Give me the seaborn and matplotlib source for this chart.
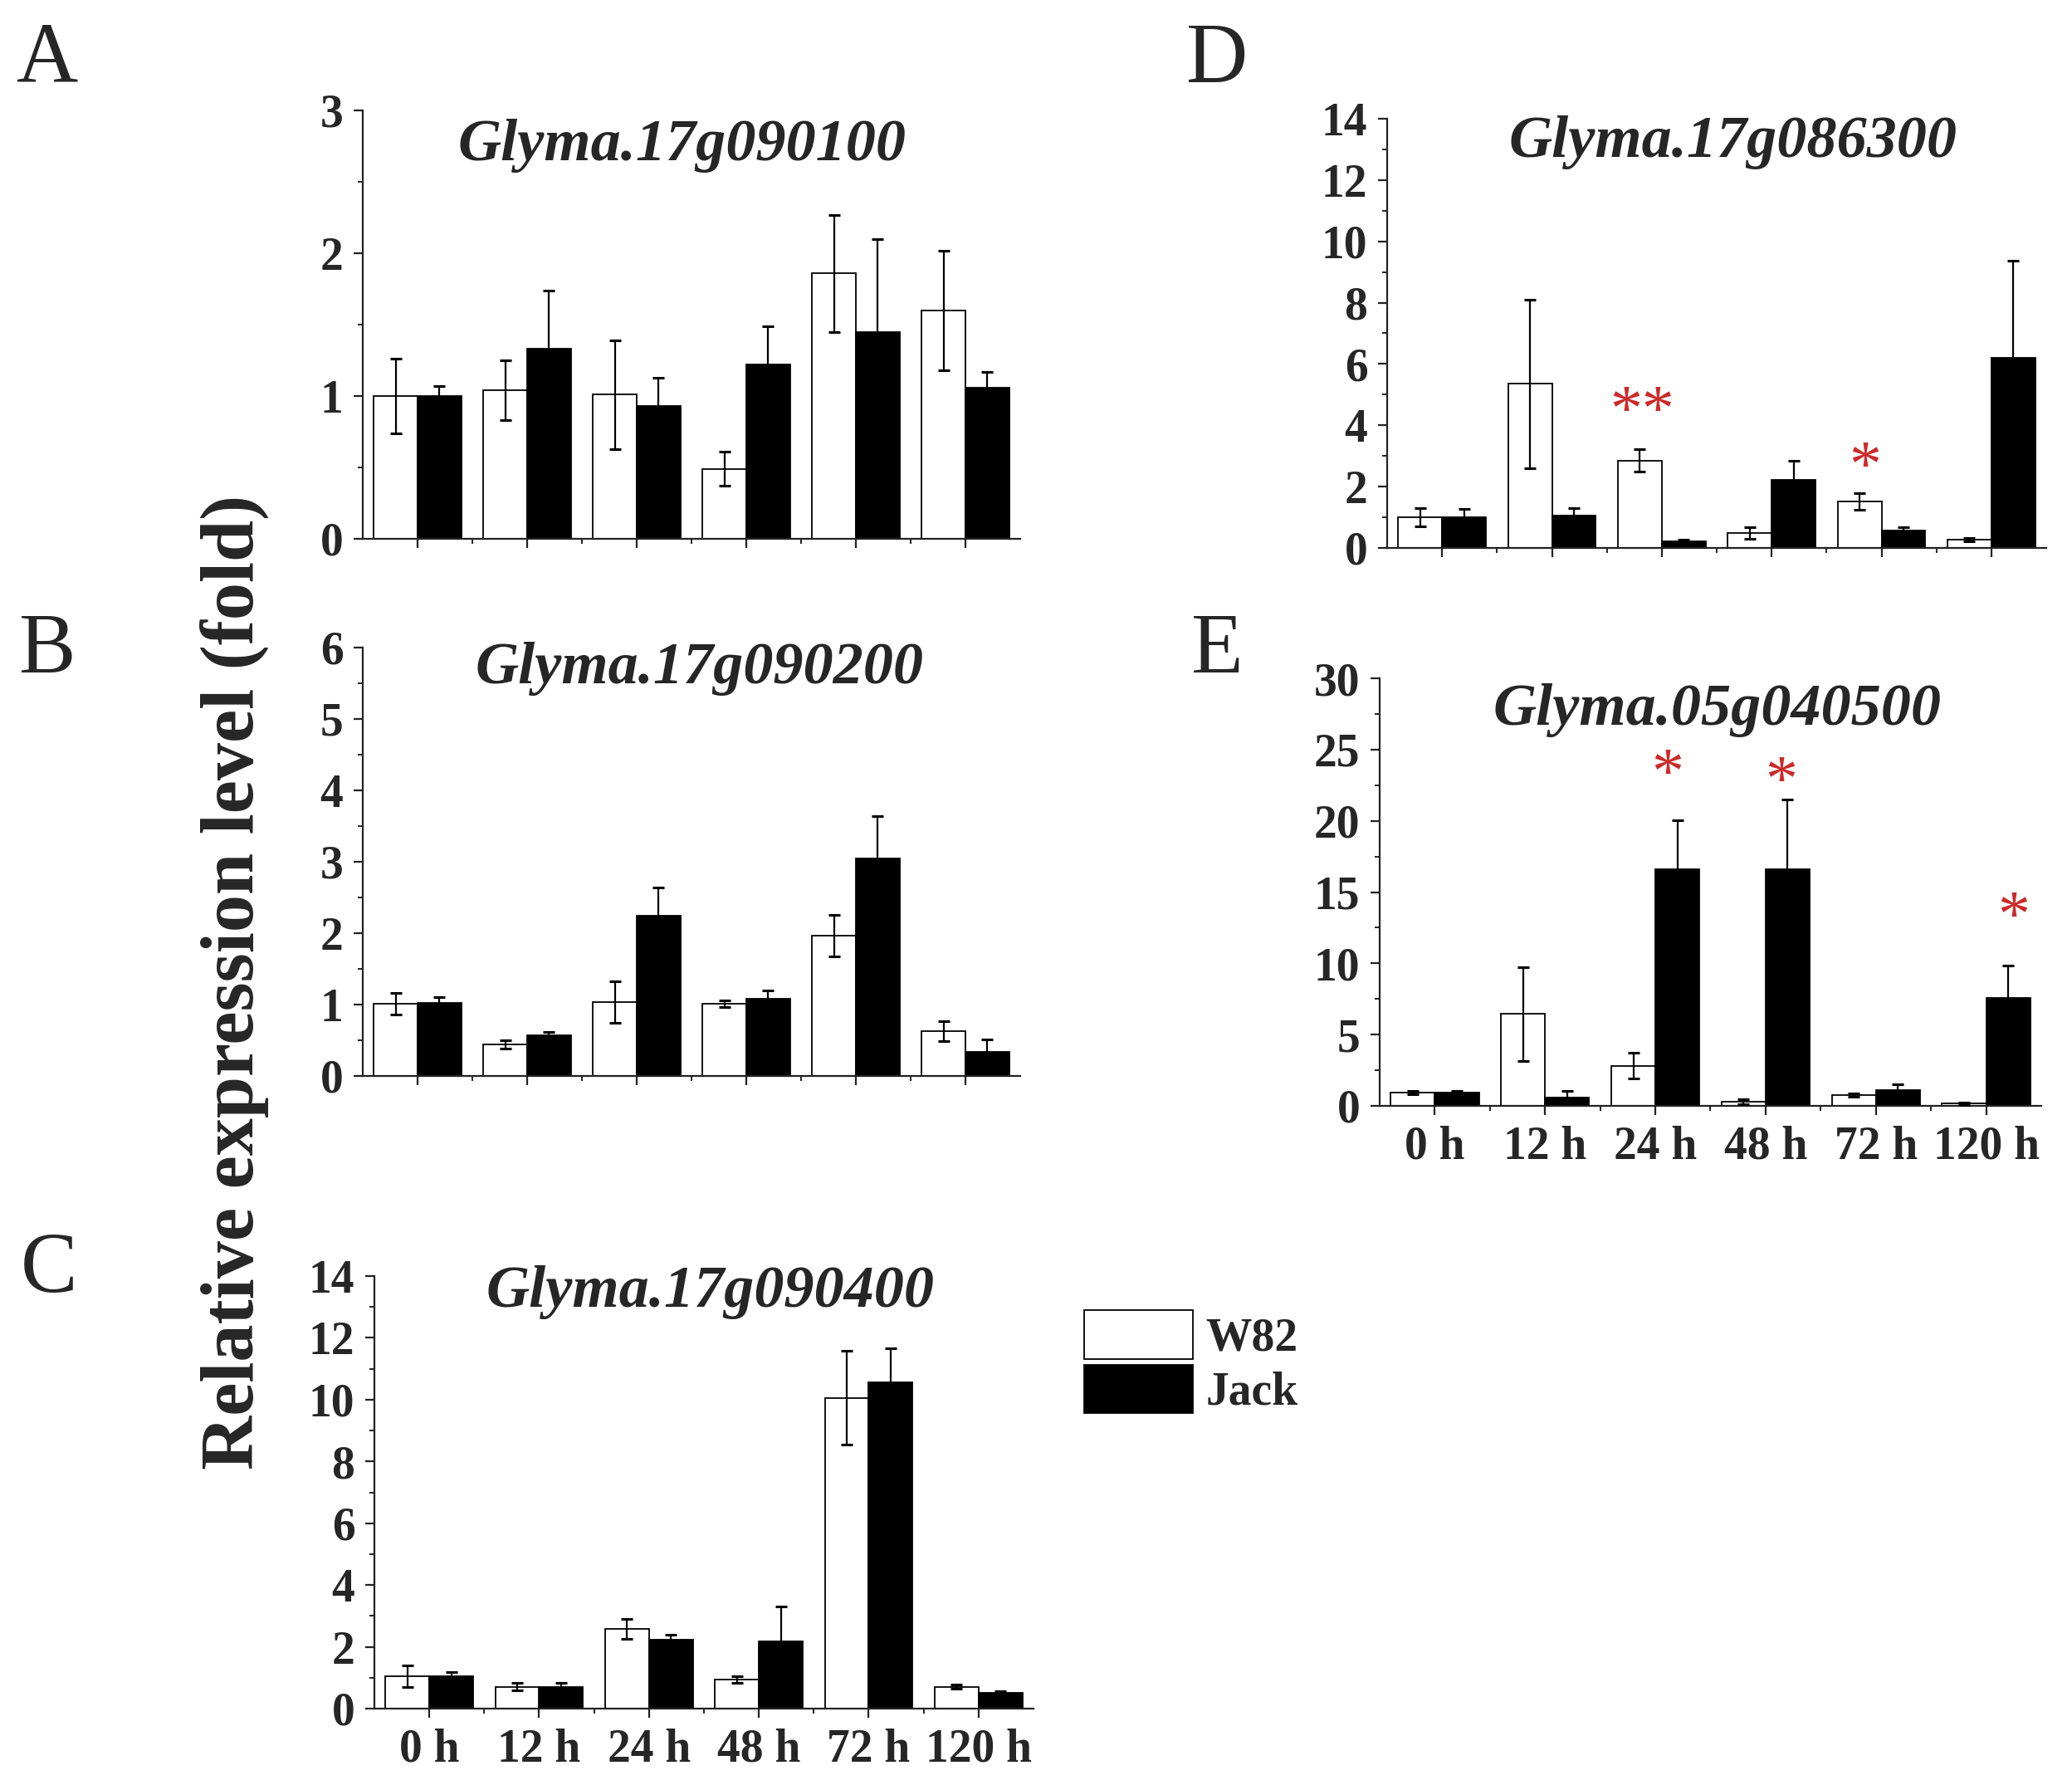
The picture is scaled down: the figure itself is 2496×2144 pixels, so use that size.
import numpy as np
import pandas as pd
import matplotlib
matplotlib.use("Agg")
import matplotlib.pyplot as plt
import seaborn as sns
from matplotlib.patches import Patch
from matplotlib.ticker import MultipleLocator, FixedLocator

# ---------------- data ----------------
times = ['0 h', '12 h', '24 h', '48 h', '72 h', '120 h']
cultivars = ['W82', 'Jack']

gene_a = 'Glyma.17g090100'
a_w82 = [1.00, 1.04, 1.01, 0.49, 1.86, 1.60]
a_w82_err = [0.26, 0.21, 0.38, 0.12, 0.41, 0.42]
a_jack = [1.00, 1.33, 0.93, 1.22, 1.45, 1.06]
a_jack_err = [0.07, 0.41, 0.20, 0.27, 0.65, 0.11]

gene_b = 'Glyma.17g090200'
b_w82 = [1.01, 0.44, 1.04, 1.01, 1.97, 0.63]
b_w82_err = [0.15, 0.06, 0.29, 0.05, 0.29, 0.14]
b_jack = [1.02, 0.57, 2.25, 1.08, 3.05, 0.34]
b_jack_err = [0.09, 0.05, 0.39, 0.12, 0.59, 0.17]

gene_c = 'Glyma.17g090400'
c_w82 = [1.05, 0.71, 2.58, 0.94, 10.06, 0.71]
c_w82_err = [0.35, 0.12, 0.33, 0.10, 1.52, 0.06]
c_jack = [1.05, 0.71, 2.24, 2.18, 10.57, 0.51]
c_jack_err = [0.14, 0.12, 0.15, 1.13, 1.09, 0.05]

gene_d = 'Glyma.17g086300'
d_w82 = [1.00, 5.36, 2.85, 0.49, 1.52, 0.28]
d_w82_err = [0.29, 2.75, 0.37, 0.18, 0.28, 0.05]
d_jack = [1.00, 1.06, 0.23, 2.22, 0.56, 6.19]
d_jack_err = [0.26, 0.24, 0.04, 0.62, 0.13, 3.18]

gene_e = 'Glyma.05g040500'
e_w82 = [0.92, 6.45, 2.82, 0.29, 0.76, 0.15]
e_w82_err = [0.12, 3.28, 0.92, 0.15, 0.10, 0.07]
e_jack = [0.92, 0.61, 16.63, 16.63, 1.08, 7.60]
e_jack_err = [0.12, 0.44, 3.41, 4.88, 0.44, 2.26]

# significance marks: label, x (category axis), y (value axis)
d_sig_labels = ['**', '*']
d_sig_x = [1.82, 3.85]
d_sig_y = [4.85, 3.03]
e_sig_labels = ['*', '*', '*']
e_sig_x = [2.11, 3.14, 5.25]
e_sig_y = [24.1, 23.6, 14.1]

# ---------------- style ----------------
sns.set_style('ticks')
plt.rcParams['font.family'] = ['Liberation Serif', 'DejaVu Serif']
plt.rcParams['font.weight'] = 'bold'

W, H = 2496, 2144
fig = plt.figure(figsize=(W / 100, H / 100), dpi=100)


def fig_axes(x0, y0, x1, y1):
    return fig.add_axes([x0 / W, 1 - y1 / H, (x1 - x0) / W, (y1 - y0) / H])


def panel(ax, w, we, j, je, ymax, major, minor, show_x):
    df = pd.DataFrame({'time': times * 2,
                       'cultivar': ['W82'] * len(times) + ['Jack'] * len(times),
                       'value': list(w) + list(j)})
    sns.barplot(data=df, x='time', y='value', hue='cultivar', order=times,
                hue_order=cultivars, palette={'W82': 'white', 'Jack': 'black'},
                edgecolor='black', linewidth=1.3, errorbar=None, width=0.8,
                saturation=1, legend=False, ax=ax)
    for cont, err in zip(ax.containers, [we, je]):
        xs = [p.get_x() + p.get_width() / 2 for p in cont]
        ys = [p.get_height() for p in cont]
        ax.errorbar(xs, ys, yerr=err, fmt='none', ecolor='black',
                    elinewidth=1.6, capsize=5, capthick=2.2, zorder=5)
    ax.set_xlim(-0.5, len(times) - 0.5)
    ax.set_ylim(0, ymax)
    ax.yaxis.set_major_locator(MultipleLocator(major))
    ax.yaxis.set_minor_locator(MultipleLocator(minor))
    ax.xaxis.set_minor_locator(FixedLocator(np.arange(0.5, len(times) - 1, 1.0)))
    ax.set_xlabel('')
    ax.set_ylabel('')
    for s in ['top', 'right']:
        ax.spines[s].set_visible(False)
    for s in ['left', 'bottom']:
        ax.spines[s].set_linewidth(1.6)
        ax.spines[s].set_color('#222222')
    ax.tick_params(axis='both', which='major', direction='out', length=8,
                   width=1.6, color='#222222', labelsize=40, pad=9)
    ax.tick_params(axis='both', which='minor', direction='out', length=4.5,
                   width=1.4, color='#222222')
    if not show_x:
        ax.set_xticklabels([])
    ax.set_facecolor('white')


axA = fig_axes(437, 133, 1229, 649)
panel(axA, a_w82, a_w82_err, a_jack, a_jack_err, 3, 1, 0.5, False)
axB = fig_axes(437, 780, 1229, 1296)
panel(axB, b_w82, b_w82_err, b_jack, b_jack_err, 6, 1, 0.5, False)
axC = fig_axes(451, 1537, 1245, 2058)
panel(axC, c_w82, c_w82_err, c_jack, c_jack_err, 14, 2, 1, True)
axD = fig_axes(1671, 143, 2465, 660)
panel(axD, d_w82, d_w82_err, d_jack, d_jack_err, 14, 2, 1, False)
axE = fig_axes(1662, 817, 2459, 1332)
panel(axE, e_w82, e_w82_err, e_jack, e_jack_err, 30, 5, 2.5, True)

# gene titles (bold italic)
for name, (cx, by) in zip([gene_a, gene_b, gene_c, gene_d, gene_e],
                          [(822, 193), (843, 823), (856, 1574), (2088, 189), (2069, 873)]):
    fig.text(cx / W, 1 - by / H, name, ha='center', va='baseline',
             fontsize=52, fontweight='bold', fontstyle='italic')

# significance asterisks
for ax, labs, xs, ys in [(axD, d_sig_labels, d_sig_x, d_sig_y),
                         (axE, e_sig_labels, e_sig_x, e_sig_y)]:
    for lab, x, y in zip(labs, xs, ys):
        ax.annotate(lab, xy=(x, y), xytext=(0, -26), textcoords='offset points',
                    ha='center', va='baseline', fontsize=56, fontweight='normal',
                    color='#cc2a2a', annotation_clip=False)

# panel letters
for lab, (cx, by) in zip('ABCDE', [(57, 99), (57, 810), (59, 1556), (1466, 99), (1466, 810)]):
    fig.text(cx / W, 1 - by / H, lab, ha='center', va='baseline',
             fontsize=74, fontweight='normal')

# shared y label
fig.text(282 / W, 1 - 1183 / H, 'Relative expression level (fold)', rotation=90,
         ha='center', va='center', fontsize=65, fontweight='bold')

# legend
handles = [Patch(facecolor='white', edgecolor='black', linewidth=1.3, label='W82'),
           Patch(facecolor='black', edgecolor='black', linewidth=1.3, label='Jack')]
fig.legend(handles=handles, loc='upper left', bbox_to_anchor=(1306 / W, 1 - 1578 / H),
           frameon=False, fontsize=40, handlelength=2.36, handleheight=1.25,
           labelspacing=0.1, handletextpad=0.27, borderpad=0, borderaxespad=0)

fig.savefig('out.png', dpi=100, facecolor='white')
